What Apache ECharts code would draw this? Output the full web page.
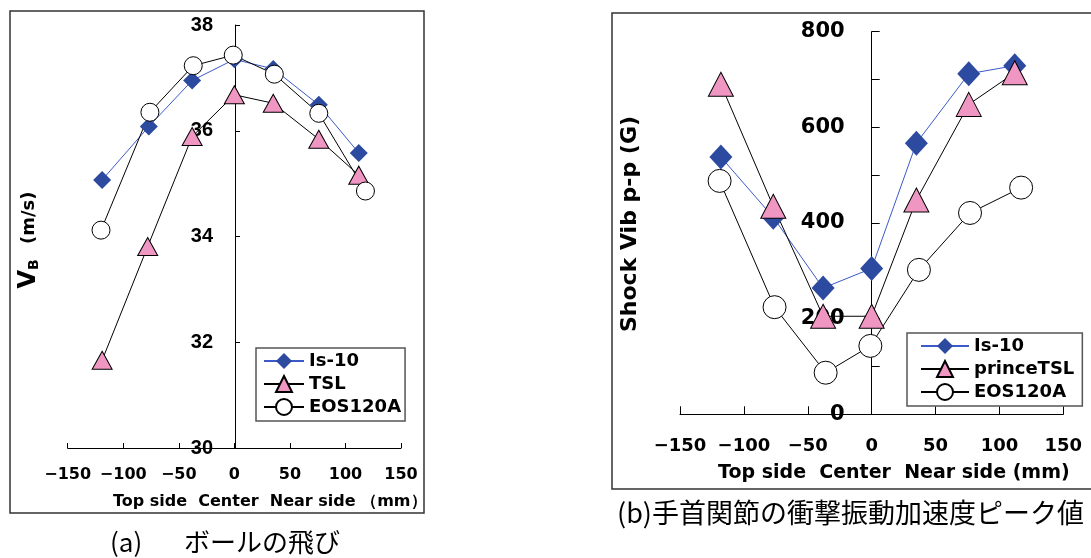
<!DOCTYPE html>
<html><head><meta charset="utf-8">
<script src="https://cdn.jsdelivr.net/npm/echarts@6/dist/echarts.min.js"></script>
<style>html,body{margin:0;padding:0;background:#fff}#c{width:1091px;height:558px}</style>
</head><body><div id="c"></div>
<script>
// ---- data (positions in mm) ----
const vbIs10X = [-119, -77, -38, 0, 35, 76, 112];
const vbIs10  = [35.07, 36.08, 36.95, 37.35, 37.17, 36.49, 35.58];
const vbTslX  = [-119, -78, -38, 0, 35, 76, 112];
const vbTsl   = [31.66, 33.81, 35.89, 36.68, 36.52, 35.84, 35.16];
const vbEosX  = [-120, -76, -37, -1, 36, 76, 118];
const vbEos   = [34.12, 36.35, 37.23, 37.43, 37.07, 36.33, 34.86];

const shIs10X = [-118, -77, -38, 0, 35, 76, 112];
const shIs10  = [538, 412, 264, 305, 567, 712, 729];
const shTslX  = [-118, -77, -38, 0, 35, 76, 112];
const shTsl   = [690, 435, 205, 205, 448, 648, 714];
const shEosX  = [-119, -76, -36, -1, 37, 77, 117];
const shEos   = [488, 224, 87, 143, 302, 421, 474];

const leftNames  = ['Is-10', 'TSL', 'EOS120A'];
const rightNames = ['Is-10', 'princeTSL', 'EOS120A'];

function pairs(xs, ys) { return xs.map((x, i) => [x, ys[i]]); }
function minus(v) { return String(v).replace('-', '\u2212'); }

const BLUE = '#2C4AA0', BLUE_LINE = '#3C5AC8', PINK = '#F096C3';
const F = 'DejaVu Sans';

function mkSeries(name, data, xi, kind, big) {
  const s = { name, type: 'line', data, xAxisIndex: xi, yAxisIndex: xi, animation: false,
    showAllSymbol: true };
  if (kind === 'd') {
    s.symbol = 'diamond'; s.symbolSize = big ? [23, 25] : [18, 18];
    s.lineStyle = { color: BLUE_LINE, width: 1 };
    s.itemStyle = { color: BLUE, borderWidth: 0 };
  } else if (kind === 't') {
    s.symbol = 'triangle'; s.symbolSize = big ? [25, 24] : [20, 18];
    s.lineStyle = { color: '#000', width: 1 };
    s.itemStyle = { color: PINK, borderColor: '#000', borderWidth: 1 };
  } else {
    s.symbol = 'circle'; s.symbolSize = big ? 23 : 18;
    s.lineStyle = { color: '#000', width: 1 };
    s.itemStyle = { color: '#fff', borderColor: '#000', borderWidth: 1 };
  }
  return s;
}

const chart = echarts.init(document.getElementById('c'), null, { renderer: 'canvas' });
chart.setOption({
  animation: false,
  backgroundColor: '#fff',
  grid: [
    { left: 67.7, right: 690, top: 25, bottom: 110 },
    { left: 680, right: 27.7, top: 31.7, bottom: 143.7 }
  ],
  xAxis: [
    { type: 'value', gridIndex: 0, min: -150, max: 150, interval: 50,
      axisLine: { show: true, onZero: false, lineStyle: { color: '#000', width: 1 } },
      axisTick: { show: true, inside: true, length: 5, lineStyle: { color: '#000' } },
      splitLine: { show: false },
      axisLabel: { color: '#000', fontFamily: F, fontWeight: 'bold', fontSize: 16, margin: 19, formatter: minus } },
    { type: 'value', gridIndex: 1, min: -150, max: 150, interval: 50,
      axisLine: { show: true, onZero: false, lineStyle: { color: '#000', width: 1 } },
      axisTick: { show: true, inside: true, length: 8, lineStyle: { color: '#000' } },
      splitLine: { show: false },
      axisLabel: { color: '#000', fontFamily: F, fontWeight: 'bold', fontSize: 18, margin: 23, formatter: minus } }
  ],
  yAxis: [
    { type: 'value', gridIndex: 0, min: 30, max: 38, interval: 2, position: 'left', offset: -167.3,
      axisLine: { show: true, onZero: false, lineStyle: { color: '#000', width: 1 } },
      axisTick: { show: true, inside: true, length: 5, lineStyle: { color: '#000' } },
      splitLine: { show: false },
      axisLabel: { color: '#000', fontFamily: 'Liberation Sans', fontWeight: 'bold', fontSize: 20, margin: 22 } },
    { type: 'value', gridIndex: 1, min: 0, max: 800, interval: 100, position: 'left', offset: -191.7,
      axisLine: { show: true, onZero: false, lineStyle: { color: '#000', width: 1 } },
      axisTick: { show: true, inside: true, length: 8, lineStyle: { color: '#000' } },
      splitLine: { show: false },
      axisLabel: { color: '#000', fontFamily: F, fontWeight: 'bold', fontSize: 21, margin: 27,
        formatter: v => (v % 200 === 0 ? String(v) : '') } }
  ],
  legend: [
    { data: leftNames, orient: 'vertical', left: 256, top: 348,
      padding: [4, 4, 5, 7], itemGap: 5, itemWidth: 40, itemHeight: 20,
      backgroundColor: '#fff', borderColor: '#555', borderWidth: 1.5,
      textStyle: { color: '#000', fontFamily: F, fontWeight: 'bold', fontSize: 18 },
      selectedMode: false },
    { data: rightNames, orient: 'vertical', left: 907, top: 333,
      padding: [4, 8, 5, 13], itemGap: 5, itemWidth: 48, itemHeight: 20,
      backgroundColor: '#fff', borderColor: '#555', borderWidth: 1.5,
      textStyle: { color: '#000', fontFamily: F, fontWeight: 'bold', fontSize: 18 },
      selectedMode: false }
  ],
  series: [
    mkSeries(leftNames[0], pairs(vbIs10X, vbIs10), 0, 'd', false),
    mkSeries(leftNames[1], pairs(vbTslX, vbTsl), 0, 't', false),
    mkSeries(leftNames[2], pairs(vbEosX, vbEos), 0, 'c', false),
    mkSeries(rightNames[0], pairs(shIs10X, shIs10), 1, 'd', true),
    mkSeries(rightNames[1], pairs(shTslX, shTsl), 1, 't', true),
    mkSeries(rightNames[2], pairs(shEosX, shEos), 1, 'c', true)
  ],
  graphic: [
    { type: 'rect', silent: true, z: -10, shape: { x: 10, y: 11, width: 414, height: 502 },
      style: { fill: 'none', stroke: '#333', lineWidth: 1.5 } },
    { type: 'rect', silent: true, z: -10, shape: { x: 612, y: 13, width: 500, height: 476 },
      style: { fill: 'none', stroke: '#333', lineWidth: 1.5 } },
    { type: 'text', silent: true, x: 29, y: 240, rotation: Math.PI / 2,
      style: { text: '{v|V}{b|B}{t|\u2002 (m/s)}', textAlign: 'center', textVerticalAlign: 'middle', fill: '#000',
        rich: { v: { fontFamily: F, fontWeight: 'bold', fontSize: 24, fill: '#000' },
                b: { fontFamily: F, fontWeight: 'bold', fontSize: 14, fill: '#000', verticalAlign: 'bottom', padding: [6, 0, 0, 0] },
                t: { fontFamily: F, fontWeight: 'bold', fontSize: 18, fill: '#000' } } } },
    { type: 'text', silent: true, x: 630, y: 224, rotation: Math.PI / 2,
      style: { text: 'Shock Vib p-p (G)', textAlign: 'center', textVerticalAlign: 'middle', fill: '#000',
        font: 'bold 22px "DejaVu Sans"' } },
    { type: 'text', silent: true, x: 113, y: 502,
      style: { text: 'Top side  Center  Near side （mm）', textAlign: 'left', textVerticalAlign: 'middle', fill: '#000',
        font: 'bold 16px "DejaVu Sans"' } },
    { type: 'text', silent: true, x: 718, y: 473,
      style: { text: 'Top side  Center  Near side (mm)', textAlign: 'left', textVerticalAlign: 'middle', fill: '#000',
        font: 'bold 19px "DejaVu Sans"' } },
    { type: 'text', silent: true, x: 110, y: 542,
      style: { text: '(a)', textAlign: 'left', textVerticalAlign: 'middle', fill: '#000',
        font: '26px "Noto Sans CJK JP"' } },
    { type: 'text', silent: true, x: 184, y: 542,
      style: { text: 'ボールの飛び', textAlign: 'left', textVerticalAlign: 'middle', fill: '#000',
        font: '26px "Noto Sans CJK JP"' } },
    { type: 'text', silent: true, x: 617, y: 513,
      style: { text: '(b)手首関節の衝撃振動加速度ピーク値', textAlign: 'left', textVerticalAlign: 'middle', fill: '#000',
        font: '27px "Noto Sans CJK JP"' } }
  ]
});
</script></body></html>
